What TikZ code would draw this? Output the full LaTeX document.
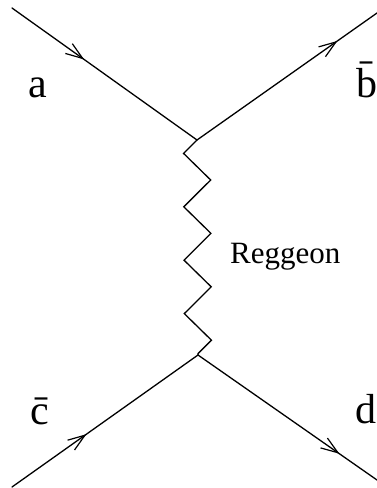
\documentclass[tikz,border=0pt]{standalone}
\usepackage{fontspec}
\setmainfont{Liberation Serif}
\usetikzlibrary{arrows.meta,decorations.pathmorphing,decorations.markings}
\tikzset{
  leg/.style    ={line width=1.3pt, line cap=round},
  legarrow/.style={leg, postaction={decorate}, decoration={markings,
                  mark=at position #1 with {\arrow{Straight Barb[length=17pt,width=12pt,line width=1.2pt]}}}},
  reggeon/.style={line width=1.3pt, decorate,
                  decoration={zigzag, segment length=53.4pt, amplitude=-13.5pt}},
  lbl/.style    ={font=\fontsize{42}{42}\selectfont, anchor=base west, inner sep=0pt},
  slbl/.style   ={font=\fontsize{31}{31}\selectfont, anchor=base west, inner sep=0pt}
}
\begin{document}
\begin{tikzpicture}[x=1pt,y=-1pt]
\useasboundingbox (0,0) rectangle (377,488);
%% external legs and the two vertices
\coordinate (ina)  at (12,8);
\coordinate (outb) at (377,13);
\coordinate (inc)  at (12,487);
\coordinate (outd) at (377,480);
\coordinate (vtop) at (197,140);
\coordinate (vbot) at (198,355);

\draw[legarrow=0.39] (ina)  -- (vtop);
\draw[legarrow=0.78] (vtop) -- (outb);
\draw[legarrow=0.40] (inc)  -- (vbot);
\draw[legarrow=0.79] (vbot) -- (outd);

%% exchanged reggeon
\draw[reggeon] (vtop) -- (vbot);

\node[lbl]  (la)   at (28,97)  {a};
\node[lbl]  (lb)   at (356,97) {\={b}};
\node[lbl]  (lc)   at (30,424) {\={c}};
\node[lbl]  (ld)   at (355,423){d};
\node[slbl] (lreg) at (230,263){Reggeon};
\end{tikzpicture}
\end{document}
